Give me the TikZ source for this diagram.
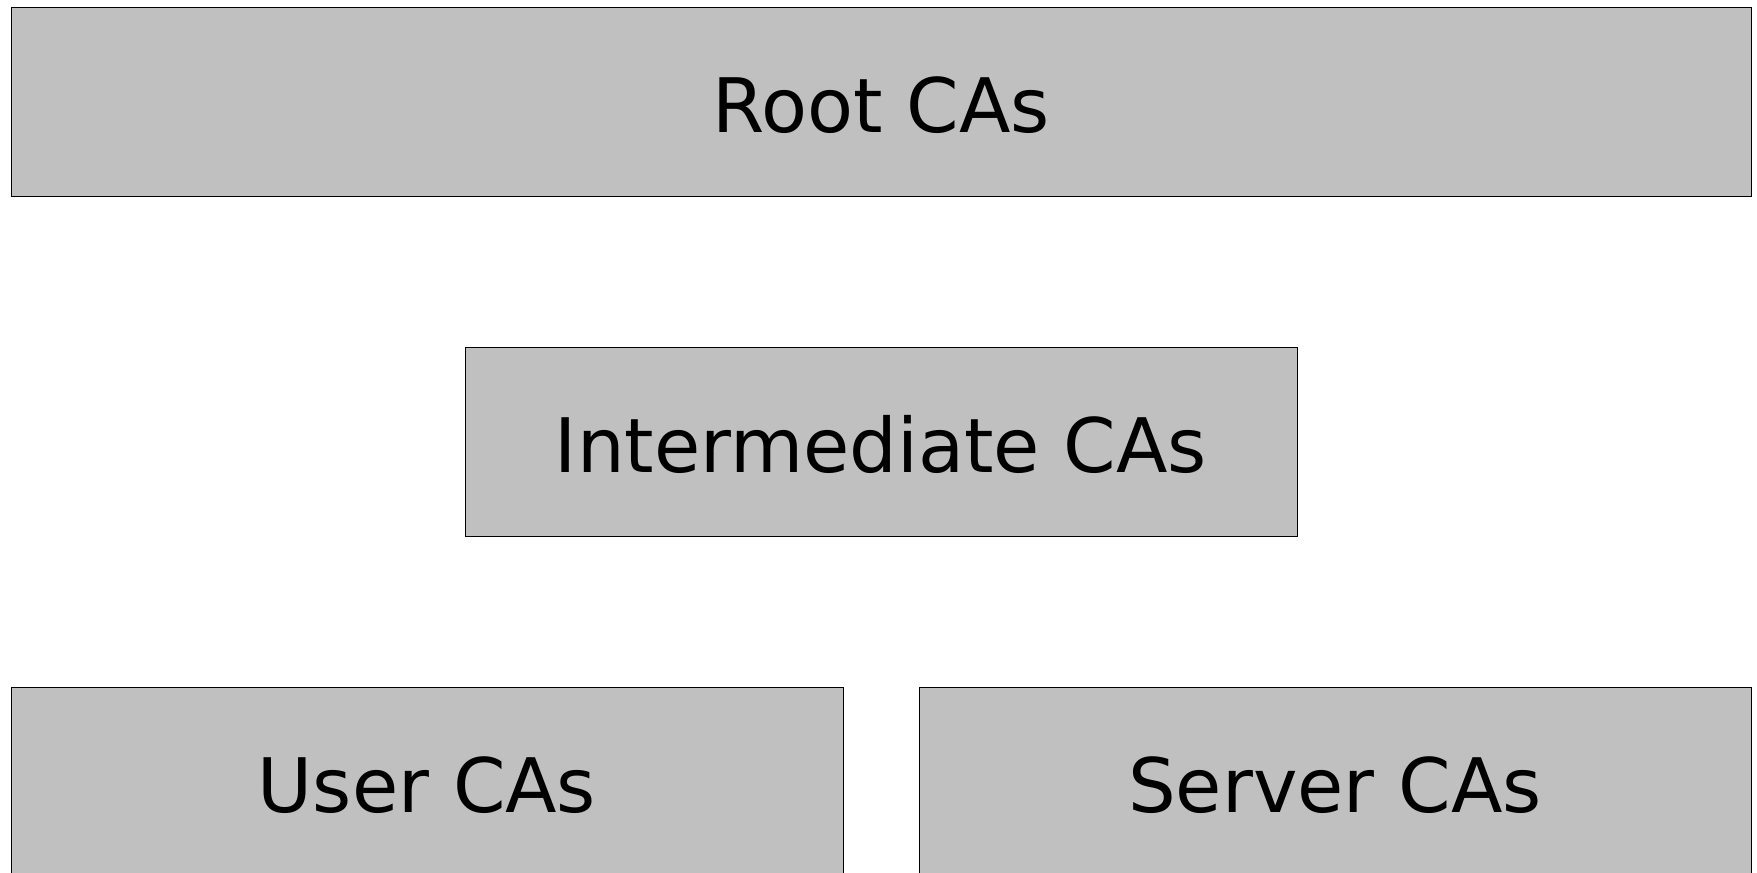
\documentclass[tikz,border=0pt]{standalone}
\usepackage{fontspec}
\setmainfont{DejaVu Sans}
\usepackage{xcolor}
\usepackage{tikz}
\definecolor{caGray}{HTML}{C0C0C0}

\begin{document}
\begin{tikzpicture}[x=0.5pt, y=-0.5pt,
			cabox/.style={draw=black, fill=caGray, line width=0.5pt,
				minimum width=416pt, minimum height=94.5pt, inner sep=0pt,
				text height=30.5pt, text depth=0pt,
				font=\fontsize{37.6}{45}\selectfont},
			rootbox/.style={cabox, minimum width=870pt},
			]
			
			%% -- page frame -----------------------------------------------------------
			\useasboundingbox (0,0) rectangle (1757,873);
			\clip (0,0) rectangle (1757,873);
			
			%% -- Root ---------------------------------------------------------------
			\node[rootbox] (root) at (881, 101.5) {Root CAs};
			
			%% -- Intermediate ---------------------------------------------------------
			\node[cabox] (inter) at (881, 441.5) {Intermediate CAs};
			
			%% -- Leaf CAs -------------------------------------------------------------
			\node[cabox] (user)   at (427, 781.5)  {User CAs};
			\node[cabox] (server) at (1335, 781.5) {Server CAs};
			
		\end{tikzpicture}
\end{document}
